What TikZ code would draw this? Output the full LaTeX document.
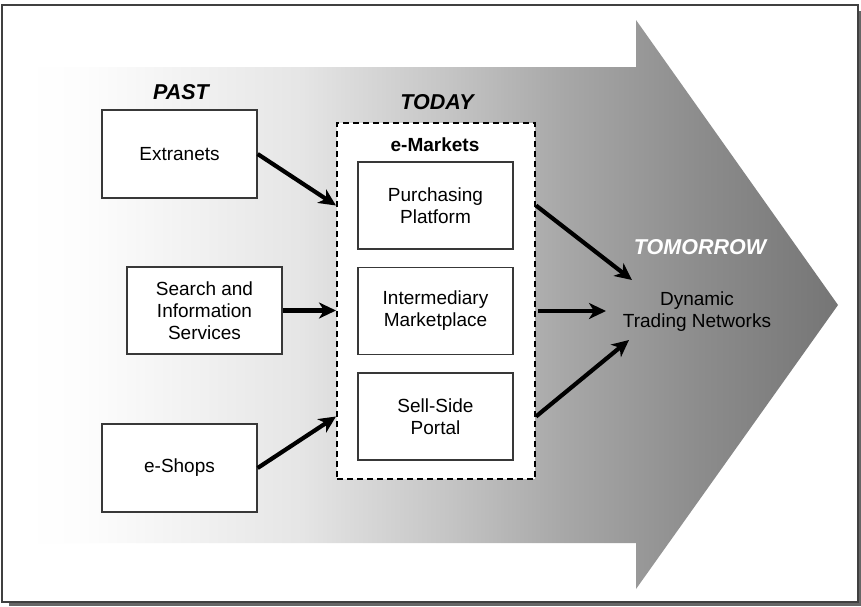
\documentclass[tikz,border=0pt]{standalone}
\usepackage{fontspec}
\setmainfont{Liberation Sans}
\usetikzlibrary{arrows.meta,calc}

% grey ramp of the big arrow (TikZ maps the 25bp..75bp band onto the path)
\pgfdeclarehorizontalshading{flowshade}{100bp}{%
  color(0bp)=(white); color(25bp)=(white); color(29bp)=(black!1);
  color(41.9bp)=(black!10); color(51.1bp)=(black!23);
  color(57.9bp)=(black!34); color(66.5bp)=(black!45);
  color(75bp)=(black!54); color(100bp)=(black!54)}

\tikzset{
  txt/.style={font=\fontsize{19}{22}\selectfont, align=center},
  head/.style={font=\fontsize{21.5}{24}\selectfont\bfseries\itshape},
  stagebox/.style={txt, draw=black!78, line width=1.3pt, fill=white,
    minimum width=155pt, minimum height=87pt, inner sep=0pt},
  flow/.style={line width=4.2pt,
    -{Stealth[length=17pt,width=16pt,inset=5pt]}},
}

\begin{document}
\begin{tikzpicture}[x=1pt,y=-1pt]
\useasboundingbox (0,0) rectangle (861,606);

% frame with drop shadow
\fill[black!60] (9,11) rectangle (861,606);
\draw[line width=2pt, draw=black!75, fill=white] (2,5) rectangle (858,602);

% big arrow
\shade[shading=flowshade]
  (25,67) -- (636,67) -- (636,20) -- (838,305) -- (636,589)
  -- (636,543) -- (25,543) -- cycle;

% headings
\node[head] (past) at (181,92) {PAST};
\node[head] (today) at (437,102) {TODAY};
\node[head, text=white] (tomorrow) at (700,247) {TOMORROW};

% past
\node[stagebox, minimum height=88pt] (ext) at (179.5,154) {Extranets};
\node[stagebox] (srch) at (204.5,310.5) {Search and\\Information\\Services};
\node[stagebox, minimum height=88pt] (shop) at (179.5,468) {e-Shops};

% today: e-markets group
\node[draw=black, fill=white, line width=2pt, dash pattern=on 6pt off 4pt,
  minimum width=198pt, minimum height=356pt, inner sep=0pt] (em) at (436,301) {};
\node[txt, font=\fontsize{19}{22}\selectfont\bfseries] (emt) at (435,145) {e-Markets};
\node[stagebox] (pur) at (435.5,205.5) {Purchasing\\Platform};
\node[stagebox] (imk) at (435.5,311) {Intermediary\\Marketplace};
\node[stagebox] (sell) at (435.5,416.5) {Sell-Side\\Portal};

% tomorrow
\node[txt] (dtn) at (697,312) {Dynamic\\Trading Networks};
\coordinate (dtnA) at (632,280);
\coordinate (dtnB) at (606,311);
\coordinate (dtnC) at (629,340);

% connectors
\draw[flow] (ext.east) -- (em.west |- pur.center);
\draw[flow] (srch.east) -- (em.west |- srch.east);
\draw[flow] (shop.east) -- (em.west |- sell.center);
\draw[flow] (em.east |- pur.center) -- (dtnA);
\draw[flow] ($(em.east |- imk.center)+(2,0)$) -- (dtnB);
\draw[flow] (em.east |- sell.center) -- (dtnC);
\end{tikzpicture}
\end{document}
